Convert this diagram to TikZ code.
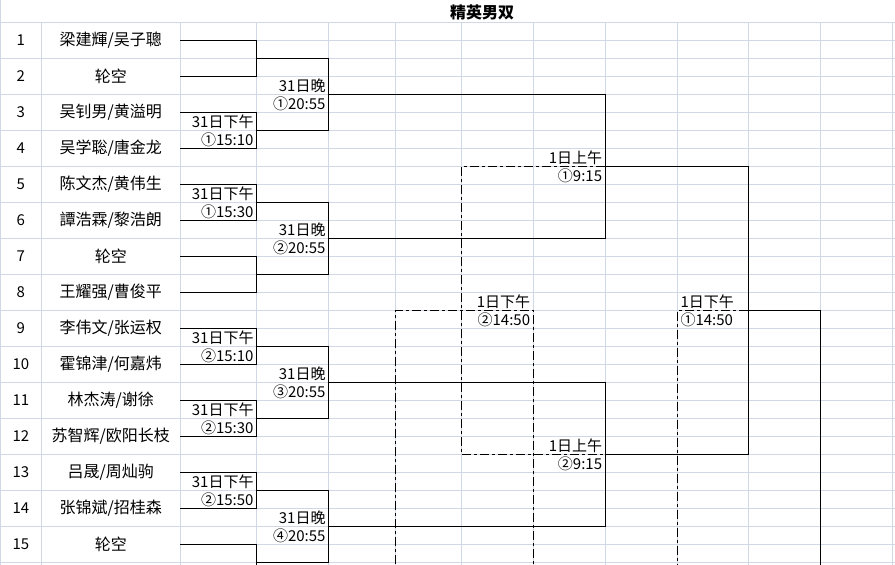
\documentclass[tikz,border=0pt]{standalone}
\usepackage{fontspec}
\setmainfont{Noto Sans CJK SC}
\definecolor{gridblue}{RGB}{208,215,229}
\tikzset{
  cell/.style={inner sep=0pt,minimum height=36pt,font=\fontsize{15}{18}\selectfont},
  numcell/.style={cell,minimum width=41.7pt},
  namecell/.style={cell,minimum width=138.3pt,font=\fontsize{16}{18}\selectfont},
  timebox/.style={inner xsep=3pt,inner ysep=0pt,font=\fontsize{15}{18}\selectfont},
  dashdot/.style={dash pattern=on 9pt off 3pt on 3pt off 3pt}
}
\begin{document}
\begin{tikzpicture}[x=1pt,y=-1pt]
  \useasboundingbox (0,0) rectangle (895,565);
  \clip (0,0) rectangle (895,565);
  % grid of the sheet
  \begin{scope}[draw=gridblue,line width=1pt]
    \foreach \k in {0,...,15} \draw (0,22.5+36*\k) -- (180,22.5+36*\k);
    \foreach \k in {0,...,30} \draw (180,22.5+18*\k) -- (895,22.5+18*\k);
    \foreach \x in {41.7,180,256.7,328.7,395.7,461.7,533.3,605.3,677.3,748.3,820.3,892.3}
      \draw (\x,22.5) -- (\x,565);
    \draw (0.5,0) -- (0.5,565);
  \end{scope}
  \node[font=\bfseries\fontsize{16}{18}\selectfont] (title) at (482,12) {精英男双};
  % seeds
  \begin{scope}[every node/.style={numcell}]
    \node (N1) at (20.85,40.5) {1};
    \node (N2) at (20.85,76.5) {2};
    \node (N3) at (20.85,112.5) {3};
    \node (N4) at (20.85,148.5) {4};
    \node (N5) at (20.85,184.5) {5};
    \node (N6) at (20.85,220.5) {6};
    \node (N7) at (20.85,256.5) {7};
    \node (N8) at (20.85,292.5) {8};
    \node (N9) at (20.85,328.5) {9};
    \node (N10) at (20.85,364.5) {10};
    \node (N11) at (20.85,400.5) {11};
    \node (N12) at (20.85,436.5) {12};
    \node (N13) at (20.85,472.5) {13};
    \node (N14) at (20.85,508.5) {14};
    \node (N15) at (20.85,544.5) {15};
  \end{scope}
  % pairs
  \begin{scope}[every node/.style={namecell}]
    \node (T1) at (110.85,40.5) {梁建輝/吴子聰};
    \node (T2) at (110.85,76.5) {轮空};
    \node (T3) at (110.85,112.5) {吴钊男/黄溢明};
    \node (T4) at (110.85,148.5) {吴学聡/唐金龙};
    \node (T5) at (110.85,184.5) {陈文杰/黄伟生};
    \node (T6) at (110.85,220.5) {譚浩霖/黎浩朗};
    \node (T7) at (110.85,256.5) {轮空};
    \node (T8) at (110.85,292.5) {王耀强/曹俊平};
    \node (T9) at (110.85,328.5) {李伟文/张运权};
    \node (T10) at (110.85,364.5) {霍锦津/何嘉炜};
    \node (T11) at (110.85,400.5) {林杰涛/谢徐};
    \node (T12) at (110.85,436.5) {苏智辉/欧阳长枝};
    \node (T13) at (110.85,472.5) {吕晟/周灿驹};
    \node (T14) at (110.85,508.5) {张锦斌/招桂森};
    \node (T15) at (110.85,544.5) {轮空};
  \end{scope}
  \coordinate (T16) at (180,580.5);
  % match points
  \coordinate (M1) at (256.7,58.5);
  \coordinate (M2) at (256.7,130.5);
  \coordinate (M3) at (256.7,202.5);
  \coordinate (M4) at (256.7,274.5);
  \coordinate (M5) at (256.7,346.5);
  \coordinate (M6) at (256.7,418.5);
  \coordinate (M7) at (256.7,490.5);
  \coordinate (M8) at (256.7,562.5);
  \coordinate (Q1) at (328.7,94.5);
  \coordinate (Q2) at (328.7,238.5);
  \coordinate (Q3) at (328.7,382.5);
  \coordinate (Q4) at (328.7,526.5);
  \coordinate (S1) at (605.3,166.5);
  \coordinate (S2) at (605.3,454.5);
  \coordinate (F) at (748.3,310.5);
  \coordinate (G) at (820.3,600);
  \coordinate (L) at (461.7,310.5);
  \coordinate (La) at (395.7,600);
  \coordinate (Lb) at (533.3,600);
  \coordinate (H) at (677.3,600);
  \begin{scope}[line width=1pt]
    \draw (T1.east) -| (M1) |- (T2.east);
    \draw (T3.east) -| (M2) |- (T4.east);
    \draw (T5.east) -| (M3) |- (T6.east);
    \draw (T7.east) -| (M4) |- (T8.east);
    \draw (T9.east) -| (M5) |- (T10.east);
    \draw (T11.east) -| (M6) |- (T12.east);
    \draw (T13.east) -| (M7) |- (T14.east);
    \draw (T15.east) -| (M8) |- (T16);
    \draw (M1) -| (Q1) |- (M2);
    \draw (M3) -| (Q2) |- (M4);
    \draw (M5) -| (Q3) |- (M6);
    \draw (M7) -| (Q4) |- (M8);
    \draw (Q1) -| (S1) |- (Q2);
    \draw (Q3) -| (S2) |- (Q4);
    \draw (S1) -| (F) |- (S2);
    \draw (F) -| (G);
  \end{scope}
  \begin{scope}[line width=1pt,dashdot]
    \draw (S1) -| (L) |- (S2);
    \draw (La) |- (L) -| (Lb);
    \draw (F) -| (H);
  \end{scope}
  % times
  \begin{scope}[every node/.style={timebox,anchor=east,align=right}]
    \node (D1) at (M2) {31日下午\\①15:10};
    \node (D2) at (M3) {31日下午\\①15:30};
    \node (D3) at (M5) {31日下午\\②15:10};
    \node (D4) at (M6) {31日下午\\②15:30};
    \node (D5) at (M7) {31日下午\\②15:50};
    \node (E1) at (Q1) {31日晚\\①20:55};
    \node (E2) at (Q2) {31日晚\\②20:55};
    \node (E3) at (Q3) {31日晚\\③20:55};
    \node (E4) at (Q4) {31日晚\\④20:55};
    \node (U1) at (S1) {1日上午\\①9:15};
    \node (U2) at (S2) {1日上午\\②9:15};
    \node (V2) at (L -| Lb) {1日下午\\②14:50};
  \end{scope}
  \node[timebox,anchor=west,align=left] (V1) at (F -| H) {1日下午\\①14:50};
\end{tikzpicture}
\end{document}
